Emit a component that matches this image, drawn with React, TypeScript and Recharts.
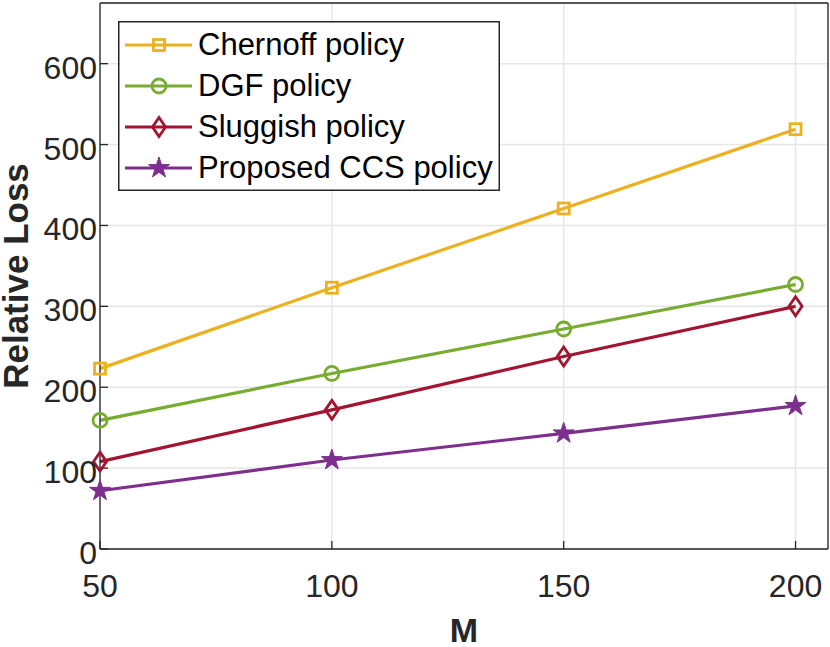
import React from "react";
import { CartesianGrid, Legend, Line, LineChart, XAxis, YAxis } from "recharts";

// values
const M = [50, 100, 150, 200];
const chernoff = [223, 323, 421, 519];
const dgf = [159, 217, 272, 327];
const sluggish = [108, 172, 238, 300];
const proposedCcs = [72, 110, 143, 177];

const xTicks = [50, 100, 150, 200];
const yTicks = [0, 100, 200, 300, 400, 500, 600];

type Shape = "square" | "circle" | "diamond" | "star";

const SERIES: { key: string; name: string; color: string; marker: Shape }[] = [
  { key: "chernoff", name: "Chernoff policy", color: "#EDB120", marker: "square" },
  { key: "dgf", name: "DGF policy", color: "#77AC30", marker: "circle" },
  { key: "sluggish", name: "Sluggish policy", color: "#A2142F", marker: "diamond" },
  { key: "ccs", name: "Proposed CCS policy", color: "#7E2F8E", marker: "star" },
];

const data = M.map((m, i) => ({
  m,
  chernoff: chernoff[i],
  dgf: dgf[i],
  sluggish: sluggish[i],
  ccs: proposedCcs[i],
}));

const FONT = '"Liberation Sans", Arial, Helvetica, sans-serif';
const AXIS = "#262626";

function starPath(cx: number, cy: number, R: number) {
  const r = R * 0.382;
  let d = "";
  for (let k = 0; k < 10; k++) {
    const a = ((-90 + k * 36) * Math.PI) / 180;
    const rad = k % 2 === 0 ? R : r;
    d += (k === 0 ? "M" : "L") + (cx + rad * Math.cos(a)).toFixed(2) + "," + (cy + rad * Math.sin(a)).toFixed(2);
  }
  return d + "Z";
}

function Marker({ shape, cx, cy, color }: { shape: Shape; cx: number; cy: number; color: string }) {
  switch (shape) {
    case "square":
      return <rect x={cx - 5.5} y={cy - 5.5} width={11} height={11} fill="none" stroke={color} strokeWidth={2.8} />;
    case "circle":
      return <circle cx={cx} cy={cy} r={7} fill="none" stroke={color} strokeWidth={2.8} />;
    case "diamond":
      return (
        <path
          d={`M${cx},${cy - 9.5} L${cx + 6.5},${cy} L${cx},${cy + 9.5} L${cx - 6.5},${cy} Z`}
          fill="none"
          stroke={color}
          strokeWidth={2.8}
        />
      );
    default:
      return <path d={starPath(cx, cy, 11)} fill={color} stroke={color} strokeWidth={1} />;
  }
}

function LegendBox() {
  return (
    <svg width={382} height={170} style={{ display: "block" }}>
      <rect x={0.75} y={0.75} width={380.5} height={168.5} fill="#fff" stroke={AXIS} strokeWidth={1.5} />
      {SERIES.map((s, i) => {
        const cy = 24 + i * 41;
        return (
          <g key={s.key}>
            <line x1={7} x2={74} y1={cy} y2={cy} stroke={s.color} strokeWidth={3.2} />
            <Marker shape={s.marker} cx={41} cy={cy} color={s.color} />
            <text x={80} y={cy + 10} fontSize={31} fontFamily={FONT} fill="#000">
              {s.name}
            </text>
          </g>
        );
      })}
    </svg>
  );
}

function XTick(props: any) {
  const { x, y, payload } = props;
  return (
    <text x={x} y={y} dy={48} textAnchor="middle" fontSize={32} fontFamily={FONT} fill={AXIS}>
      {payload.value}
    </text>
  );
}

function YTick(props: any) {
  const { x, y, payload } = props;
  return (
    <text x={x} y={y} dy={15} textAnchor="end" fontSize={32} fontFamily={FONT} fill={AXIS}>
      {payload.value}
    </text>
  );
}

export default function App() {
  return (
    <div style={{ position: "absolute", left: 0, top: 0, width: 830, height: 647, background: "#fff" }}>
      <LineChart width={830} height={647} data={data} margin={{ top: 0, right: 0, bottom: 0, left: 0 }}>
        <CartesianGrid stroke="#e6e6e6" strokeWidth={1.5} />
        <XAxis
          dataKey="m"
          type="number"
          domain={[50, 207]}
          ticks={xTicks}
          height={98}
          stroke={AXIS}
          strokeWidth={1.3}
          tickSize={-8}
          tickMargin={8}
          tick={<XTick />}
          label={{
            content: () => (
              <text x={464} y={642} textAnchor="middle" fontSize={34} fontWeight="bold" fontFamily={FONT} fill={AXIS}>
                M
              </text>
            ),
          }}
        />
        <XAxis
          xAxisId="top"
          orientation="top"
          type="number"
          domain={[50, 207]}
          ticks={xTicks}
          height={3}
          stroke={AXIS}
          strokeWidth={1.3}
          tickSize={-8}
          tick={false}
        />
        <YAxis
          type="number"
          domain={[0, 675]}
          ticks={yTicks}
          width={100}
          stroke={AXIS}
          strokeWidth={1.3}
          tickSize={-8}
          tickMargin={11}
          tick={<YTick />}
          label={{
            content: () => (
              <text
                x={28}
                y={276}
                transform="rotate(-90 28 276)"
                textAnchor="middle"
                fontSize={35}
                fontWeight="bold"
                fontFamily={FONT}
                fill={AXIS}
              >
                Relative Loss
              </text>
            ),
          }}
        />
        <YAxis
          yAxisId="right"
          orientation="right"
          type="number"
          domain={[0, 675]}
          ticks={yTicks}
          width={2}
          stroke={AXIS}
          strokeWidth={1.3}
          tickSize={-8}
          tick={false}
        />
        {SERIES.map((s) => (
          <Line
            key={s.key}
            dataKey={s.key}
            name={s.name}
            stroke={s.color}
            strokeWidth={3.2}
            isAnimationActive={false}
            activeDot={false}
            dot={(p: any) => <Marker key={`${s.key}-${p.index}`} shape={s.marker} cx={p.cx} cy={p.cy} color={s.color} />}
          />
        ))}
        <Legend
          layout="horizontal"
          verticalAlign="middle"
          align="center"
          content={() => <LegendBox />}
          wrapperStyle={{ left: 118, top: 21, width: 382, height: 170 }}
        />
      </LineChart>
    </div>
  );
}
